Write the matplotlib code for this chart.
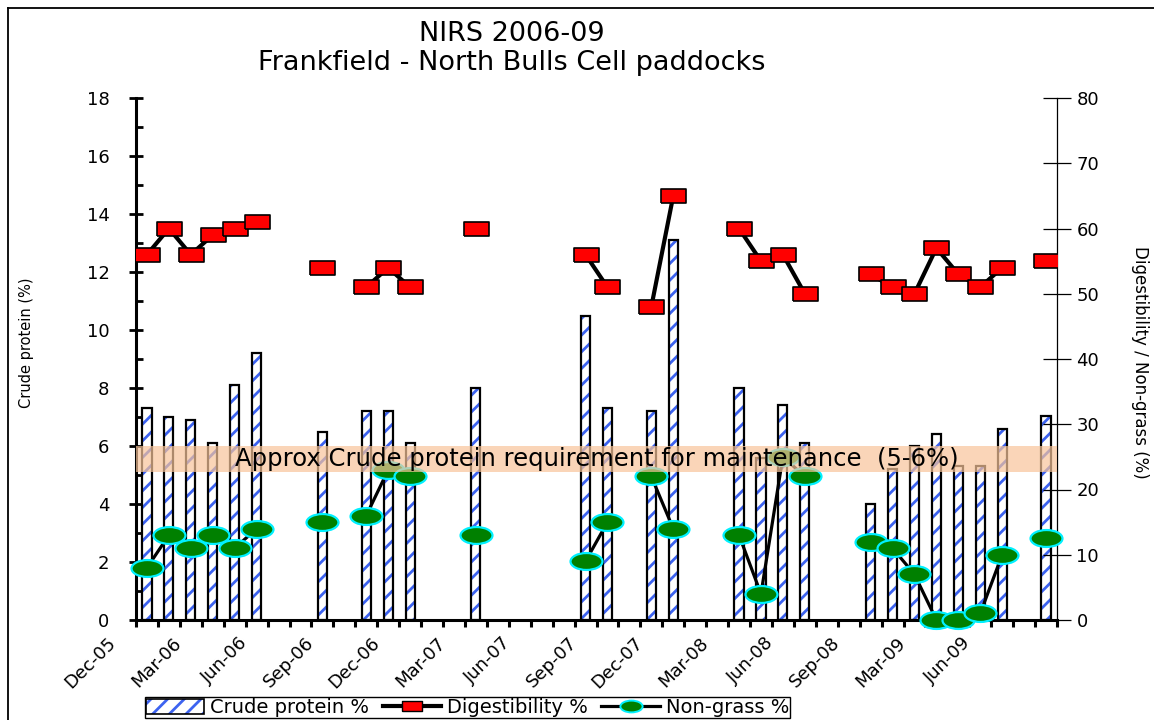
import numpy as np
import matplotlib
matplotlib.use("Agg")
import matplotlib.pyplot as plt
from matplotlib.path import Path
from matplotlib.transforms import Affine2D, ScaledTranslation
from matplotlib.patches import Rectangle, Patch
from matplotlib.lines import Line2D
from matplotlib.legend_handler import HandlerTuple

nan = np.nan

# monthly categories (only every 3rd one is labelled on the axis)
months = ["Dec-05", "Jan-06", "Feb-06", "Mar-06", "Apr-06", "May-06", "Jun-06",
          "Jul-06", "Aug-06", "Sep-06", "Oct-06", "Nov-06", "Dec-06", "Jan-07",
          "Feb-07", "Mar-07", "Apr-07", "May-07", "Jun-07", "Jul-07", "Aug-07",
          "Sep-07", "Oct-07", "Nov-07", "Dec-07", "Jan-08", "Feb-08", "Mar-08",
          "Apr-08", "May-08", "Jun-08", "Jul-08", "Aug-08", "Sep-08", "Nov-08",
          "Jan-09", "Mar-09", "Apr-09", "May-09", "Jun-09", "Jul-09", "Aug-09"]

crude_protein = [7.3, 7.0, 6.9, 6.1, 8.1, 9.2, nan, nan, 6.5, nan, 7.2, 7.2, 6.1, nan,
                 nan, 8.0, nan, nan, nan, nan, 10.5, 7.3, nan, 7.2, 13.1, nan, nan, 8.0,
                 5.6, 7.4, 6.1, nan, nan, 4.0, 5.2, 6.0, 6.4, 5.3, 5.3, 6.6, nan, 7.05]

digestibility = [56, 60, 56, 59, 60, 61, nan, nan, 54, nan, 51, 54, 51, nan,
                 nan, 60, nan, nan, nan, nan, 56, 51, nan, 48, 65, nan, nan, 60,
                 55, 56, 50, nan, nan, 53, 51, 50, 57, 53, 51, 54, nan, 55]

non_grass = [8, 13, 11, 13, 11, 14, nan, nan, 15, nan, 16, 23, 22, nan,
             nan, 13, nan, nan, nan, nan, 9, 15, nan, 22, 14, nan, nan, 13,
             4, 25, 22, nan, nan, 12, 11, 7, 0, 0, 1, 10, nan, 12.5]

band_low, band_high = 5.1, 6.0
band_text = "Approx Crude protein requirement for maintenance  (5-6%)"

plt.rcParams['font.family'] = ['DejaVu Sans']
plt.rcParams['hatch.linewidth'] = 2.0

blue = '#3D63F0'
x = np.arange(len(months)) + 0.5

fig = plt.figure(figsize=(11.54, 7.2), dpi=100)
ax = fig.add_axes([136/1154, 1-620/720, (1057-136)/1154, (620-98)/720])
ax2 = ax.twinx()

# bars: hatch first, then black outline on top
ax.bar(x, crude_protein, width=0.42, color='white', edgecolor=blue, hatch='//', lw=0, zorder=2)
ax.bar(x, crude_protein, width=0.42, color='none', edgecolor='black', lw=1.6, zorder=3)

ax.set_xlim(0, len(months))
ax.set_ylim(0, 18)
ax.set_yticks(range(0, 19, 2))
ax.set_yticks(range(1, 18, 2), minor=True)
ax.tick_params(axis='y', which='major', direction='inout', length=10, width=2, labelsize=13, pad=14)
ax.tick_params(axis='y', which='minor', direction='in', length=5, width=2)

ax.set_xticks(np.arange(0, len(months) + 1), minor=True)
ax.set_xticks(x[::3])
ax.set_xticklabels(months[::3], rotation=45, ha='right', va='top', rotation_mode='anchor')
ax.tick_params(axis='x', which='major', length=0, labelsize=13, pad=10)
ax.tick_params(axis='x', which='minor', direction='out', length=5, width=2.2)
shift = ScaledTranslation(-0.4, 0, fig.dpi_scale_trans)
for lbl in ax.get_xticklabels():
    lbl.set_transform(lbl.get_transform() + shift)

ax.spines['left'].set_linewidth(2.2)
ax.spines['bottom'].set_linewidth(2.2)
ax.spines['top'].set_visible(False)
ax.spines['right'].set_visible(False)

# markers
rect_marker = [(-1, -0.56), (1, -0.56), (1, 0.56), (-1, 0.56), (-1, -0.56)]
ellipse_marker = Path.unit_circle().transformed(Affine2D().scale(1, 0.53))

ax2.plot(x, digestibility, color='black', lw=3, marker=rect_marker, markersize=18,
         markerfacecolor='#FF0000', markeredgecolor='black', markeredgewidth=1.2, zorder=3)
ax2.plot(x, non_grass, color='black', lw=2.3, marker=ellipse_marker, markersize=23,
         markerfacecolor='#008000', markeredgecolor='#00F0FF', markeredgewidth=1.6, zorder=4,
         clip_on=False)

ax2.set_ylim(0, 80)
ax2.set_yticks(range(0, 81, 10))
ax2.tick_params(axis='y', direction='inout', length=20, width=0.9, labelsize=13, pad=4)
for s in ['left', 'bottom', 'top']:
    ax2.spines[s].set_visible(False)
ax2.spines['right'].set_linewidth(0.9)

# maintenance band, drawn above the series in crude protein units
ax2.add_patch(Rectangle((0, band_low), len(months), band_high - band_low, transform=ax.transData,
                        facecolor='#F8C49A', alpha=0.7, lw=0, zorder=5))
ax2.text(21, (band_low + band_high) / 2, band_text, transform=ax.transData, fontsize=17.5,
         ha='center', va='center', zorder=6)

# titles and axis labels
fig.text(512/1154, 1-34/720, "NIRS 2006-09", fontsize=19.5, ha='center', va='center')
fig.text(512/1154, 1-63/720, "Frankfield - North Bulls Cell paddocks", fontsize=19.5,
         ha='center', va='center')
fig.text(27/1154, 1-343/720, "Crude protein (%)", fontsize=10.5, rotation=90,
         ha='center', va='center')
fig.text(1140/1154, 1-362/720, "Digestibility / Non-grass (%)", fontsize=12, rotation=-90,
         ha='center', va='center')

# outer chart border
fig.add_artist(Line2D([8/1154, 8/1154], [0, 1-8/720], transform=fig.transFigure, color='black', lw=1.3))
fig.add_artist(Line2D([8/1154, 1], [1-8/720, 1-8/720], transform=fig.transFigure, color='black', lw=1.3))

# legend
bar_handle = (Patch(facecolor='white', edgecolor=blue, hatch='//', lw=0),
              Patch(facecolor='none', edgecolor='black', lw=1.2))
dig_handle = Line2D([], [], color='black', lw=3, marker=rect_marker, markersize=14,
                    markerfacecolor='#FF0000', markeredgecolor='black')
ng_handle = Line2D([], [], color='black', lw=2.3, marker=ellipse_marker, markersize=16,
                   markerfacecolor='#008000', markeredgecolor='#00F0FF', markeredgewidth=1.4)
leg = fig.legend([bar_handle, dig_handle, ng_handle],
                 ["Crude protein %", "Digestibility %", "Non-grass %"],
                 handler_map={tuple: HandlerTuple(ndivide=1, pad=0)},
                 loc='upper left', bbox_to_anchor=(145/1154, 1-697/720), ncol=3, fontsize=14,
                 frameon=True, fancybox=False, edgecolor='black', framealpha=1,
                 handlelength=3.0, handleheight=0.8, handletextpad=0.3, columnspacing=0.7,
                 borderpad=0.05, borderaxespad=0)
leg.get_frame().set_linewidth(1.0)

fig.savefig("out.png", dpi=100)
